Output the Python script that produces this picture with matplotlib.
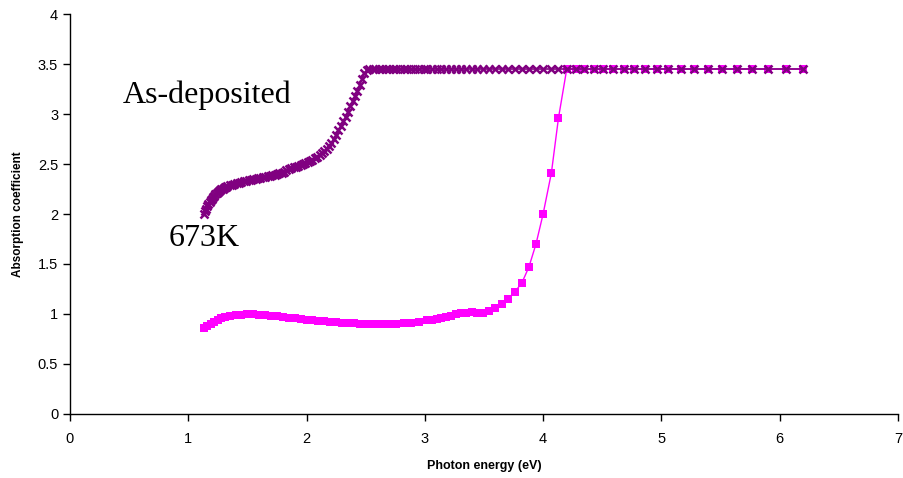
import matplotlib
matplotlib.use("Agg")
import matplotlib.pyplot as plt

# ---- data ----
# As-deposited (purple crosses)
asdep_energy = [
    1.13, 1.14, 1.15, 1.16, 1.17, 1.18, 1.19, 1.20, 1.21, 1.22,
    1.23, 1.24, 1.25, 1.26, 1.27, 1.28, 1.29, 1.30, 1.31, 1.32,
    1.33, 1.35, 1.37, 1.39, 1.41, 1.43, 1.45, 1.47, 1.49, 1.51,
    1.53, 1.55, 1.57, 1.59, 1.61, 1.63, 1.65, 1.67, 1.69, 1.71,
    1.73, 1.75, 1.77, 1.79, 1.81, 1.83, 1.85, 1.87, 1.89, 1.91,
    1.93, 1.95, 1.97, 1.99, 2.01, 2.03, 2.05, 2.07, 2.09, 2.11,
    2.13, 2.15, 2.17, 2.19, 2.21, 2.23, 2.25, 2.27, 2.29, 2.31,
    2.33, 2.35, 2.37, 2.39, 2.41, 2.43, 2.45, 2.47, 2.49, 2.51,
    2.53, 2.56, 2.58, 2.61, 2.64, 2.67, 2.70, 2.73, 2.76, 2.79,
    2.82, 2.85, 2.88, 2.92, 2.95, 2.99, 3.02, 3.06, 3.10, 3.14,
    3.18, 3.22, 3.26, 3.31, 3.35, 3.40, 3.44, 3.49, 3.54, 3.59,
    3.65, 3.70, 3.76, 3.82, 3.88, 3.94, 4.00, 4.07, 4.13, 4.20,
    4.28, 4.35, 4.43, 4.51, 4.59, 4.68, 4.77, 4.86, 4.96, 5.06,
    5.17, 5.28, 5.39, 5.51, 5.64, 5.77, 5.90, 6.05, 6.20,
]
asdep_abs = [
    2.00, 2.03, 2.05, 2.08, 2.10, 2.12, 2.14, 2.155, 2.17, 2.185,
    2.20, 2.21, 2.22, 2.23, 2.24, 2.25, 2.255, 2.26, 2.27, 2.275,
    2.28, 2.29, 2.295, 2.305, 2.31, 2.315, 2.32, 2.33, 2.335, 2.34,
    2.345, 2.35, 2.355, 2.36, 2.365, 2.37, 2.375, 2.38, 2.385, 2.39,
    2.395, 2.40, 2.41, 2.415, 2.42, 2.44, 2.45, 2.46, 2.47, 2.475,
    2.48, 2.49, 2.50, 2.51, 2.52, 2.53, 2.545, 2.56, 2.57, 2.59,
    2.61, 2.63, 2.655, 2.68, 2.71, 2.75, 2.79, 2.84, 2.88, 2.93,
    2.97, 3.02, 3.08, 3.13, 3.18, 3.23, 3.29, 3.35, 3.41, 3.44,
    3.45, 3.45, 3.45, 3.45, 3.45, 3.45, 3.45, 3.45, 3.45, 3.45,
    3.45, 3.45, 3.45, 3.45, 3.45, 3.45, 3.45, 3.45, 3.45, 3.45,
    3.45, 3.45, 3.45, 3.45, 3.45, 3.45, 3.45, 3.45, 3.45, 3.45,
    3.45, 3.45, 3.45, 3.45, 3.45, 3.45, 3.45, 3.45, 3.45, 3.45,
    3.45, 3.45, 3.45, 3.45, 3.45, 3.45, 3.45, 3.45, 3.45, 3.45,
    3.45, 3.45, 3.45, 3.45, 3.45, 3.45, 3.45, 3.45, 3.45,
]

# 673K (magenta squares)
k673_energy = [
    1.13, 1.16, 1.19, 1.22, 1.25, 1.28, 1.31, 1.35, 1.40, 1.45,
    1.50, 1.55, 1.60, 1.65, 1.70, 1.75, 1.80, 1.85, 1.90, 1.95,
    2.00, 2.05, 2.10, 2.15, 2.20, 2.25, 2.30, 2.35, 2.40, 2.45,
    2.50, 2.55, 2.60, 2.65, 2.70, 2.76, 2.82, 2.88, 2.95, 3.02,
    3.06, 3.10, 3.14, 3.18, 3.22, 3.26, 3.31, 3.35, 3.40, 3.44,
    3.49, 3.54, 3.59, 3.65, 3.70, 3.76, 3.82, 3.88, 3.94, 4.00,
    4.07, 4.13, 4.20, 4.28, 4.35, 4.43, 4.51, 4.59, 4.68, 4.77,
    4.86, 4.96, 5.06, 5.17, 5.28, 5.39, 5.51, 5.64, 5.77, 5.90,
    6.05, 6.20,
]
k673_abs = [
    0.86, 0.88, 0.90, 0.92, 0.94, 0.955, 0.965, 0.975, 0.985, 0.99,
    0.995, 0.995, 0.99, 0.985, 0.98, 0.975, 0.97, 0.96, 0.955, 0.945,
    0.94, 0.935, 0.93, 0.925, 0.92, 0.915, 0.91, 0.905, 0.905, 0.90,
    0.90, 0.90, 0.90, 0.90, 0.90, 0.90, 0.905, 0.91, 0.92, 0.935,
    0.94, 0.95, 0.96, 0.97, 0.98, 0.995, 1.005, 1.01, 1.015, 1.01,
    1.01, 1.03, 1.06, 1.10, 1.15, 1.22, 1.31, 1.47, 1.70, 2.00,
    2.41, 2.96, 3.45, 3.45, 3.45, 3.45, 3.45, 3.45, 3.45, 3.45,
    3.45, 3.45, 3.45, 3.45, 3.45, 3.45, 3.45, 3.45, 3.45, 3.45,
    3.45, 3.45,
]

x_ticks = [0, 1, 2, 3, 4, 5, 6, 7]
y_ticks = [0, 0.5, 1, 1.5, 2, 2.5, 3, 3.5, 4]
y_tick_labels = ["0", "0.5", "1", "1.5", "2", "2.5", "3", "3.5", "4"]

# ---- figure ----
plt.rcParams['font.family'] = ['Liberation Sans', 'DejaVu Sans']
fig = plt.figure(figsize=(9.04, 4.78), dpi=100)
ax = fig.add_axes([0.0774, 0.1339, 0.9159, 0.8368])

ax.plot(k673_energy, k673_abs, color='#FF00FF', lw=1.0, marker='s',
        markersize=6, markeredgewidth=0, zorder=2)
ax.plot(asdep_energy, asdep_abs, color='#800080', lw=1.2, marker='x',
        markersize=6, markeredgewidth=1.8, zorder=3)

ax.set_xlim(0, 7)
ax.set_ylim(0, 4)
ax.set_xticks(x_ticks)
ax.set_yticks(y_ticks)
ax.set_yticklabels(y_tick_labels)
ax.tick_params(direction='out', length=5, width=1, labelsize=10.5, colors='black')
ax.tick_params(axis='x', pad=8)
for s in ['top', 'right']:
    ax.spines[s].set_visible(False)
for s in ['left', 'bottom']:
    ax.spines[s].set_linewidth(1.0)
    ax.spines[s].set_color('black')

ax.set_xlabel('Photon energy (eV)', fontsize=9, fontweight='bold', labelpad=10)
ax.set_ylabel('Absorption coefficient', fontsize=8.5, fontweight='bold', labelpad=10)

ax.text(0.45, 3.19, 'As-deposited', fontsize=23, family='Liberation Serif',
        ha='left', va='center')
ax.text(0.83, 1.75, '673K', fontsize=23, family='Liberation Serif',
        ha='left', va='center')

fig.savefig('out.png', dpi=100)
